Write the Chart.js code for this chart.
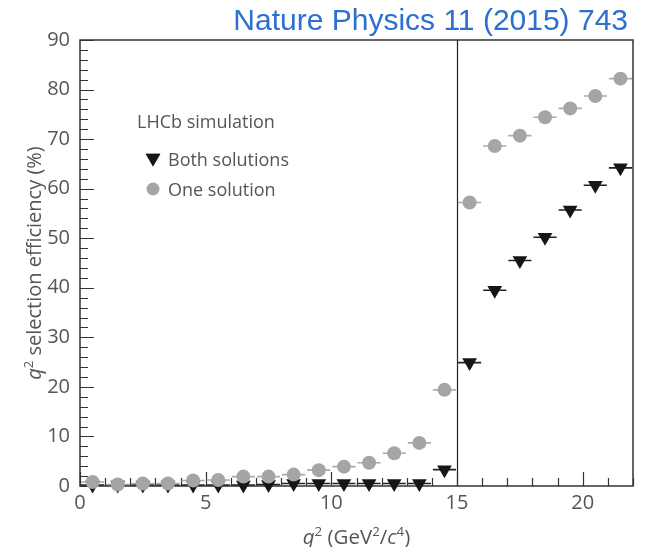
<!DOCTYPE html>
<html>
<head>
<meta charset="utf-8">
<script src="https://cdn.jsdelivr.net/npm/chart.js@4.4.1/dist/chart.umd.min.js"></script>
<style>
  html, body { margin: 0; padding: 0; background: #fff; }
  #wrap { position: relative; width: 646px; height: 547px; }
</style>
</head>
<body>
<div id="wrap"><canvas id="effChart" width="646" height="547"></canvas></div>
<script>
// q2 bin centres (GeV^2/c^4), bins are 1 wide
const binCenters = [0.5, 1.5, 2.5, 3.5, 4.5, 5.5, 6.5, 7.5, 8.5, 9.5, 10.5,
  11.5, 12.5, 13.5, 14.5, 15.5, 16.5, 17.5, 18.5, 19.5, 20.5, 21.5];
const binHalfWidth = 0.5;

// efficiency (%)
const oneSolution = [0.8, 0.3, 0.5, 0.5, 1.1, 1.2, 1.9, 1.9, 2.3, 3.2, 3.9,
  4.7, 6.6, 8.7, 19.4, 57.2, 68.6, 70.7, 74.4, 76.2, 78.7, 82.2];
const bothSolutions = [0.2, 0.2, 0.2, 0.2, 0.2, 0.2, 0.2, 0.3, 0.5, 0.5, 0.5,
  0.5, 0.5, 0.5, 3.3, 24.9, 39.5, 45.5, 50.2, 55.7, 60.7, 64.2];

const xTicks = [0, 5, 10, 15, 20];
const yTicks = [0, 10, 20, 30, 40, 50, 60, 70, 80, 90];
const dividerAt = 15;

const inkGray = "#555";
const FONT = "'Open Sans', 'DejaVu Sans', sans-serif";

function toPoints(ys) {
  return binCenters.map((x, i) => ({ x: x, y: ys[i] }));
}

// writes a label made of pieces (italic / superscript)
function richWidth(ctx, parts, size) {
  let w = 0;
  parts.forEach((p) => {
    ctx.font = (p.it ? "italic " : "") + (p.sup ? size * 0.65 : size) + "px " + FONT;
    w += ctx.measureText(p.t).width;
  });
  return w;
}
function drawRich(ctx, parts, size, x, y) {
  let cx = x;
  ctx.textBaseline = "alphabetic";
  ctx.textAlign = "left";
  parts.forEach((p) => {
    ctx.font = (p.it ? "italic " : "") + (p.sup ? size * 0.65 : size) + "px " + FONT;
    ctx.fillText(p.t, cx, p.sup ? y - size * 0.38 : y);
    cx += ctx.measureText(p.t).width;
  });
}

const xTitle = [{ t: "q", it: true }, { t: "2", sup: true }, { t: " (GeV" },
  { t: "2", sup: true }, { t: "/" }, { t: "c", it: true }, { t: "4", sup: true }, { t: ")" }];
const yTitle = [{ t: "q", it: true }, { t: "2", sup: true }, { t: " selection efficiency (%)" }];

const framePlugin = {
  id: "framePlugin",
  beforeDatasetsDraw(chart) {
    const ctx = chart.ctx;
    const a = chart.chartArea;
    const xs = chart.scales.x;
    const ys = chart.scales.y;
    ctx.save();

    // box
    ctx.strokeStyle = "#333";
    ctx.lineWidth = 1.5;
    ctx.strokeRect(a.left, a.top, a.right - a.left, a.bottom - a.top);

    // vertical line at 15
    ctx.lineWidth = 1.2;
    ctx.strokeStyle = "#222";
    const dx = Math.round(xs.getPixelForValue(dividerAt)) + 0.5;
    ctx.beginPath();
    ctx.moveTo(dx, a.top);
    ctx.lineTo(dx, a.bottom);
    ctx.stroke();

    // inward ticks
    ctx.lineWidth = 1.2;
    ctx.strokeStyle = "#333";
    ctx.beginPath();
    for (let v = 0; v <= 90; v += 2) {
      const py = Math.round(ys.getPixelForValue(v)) + 0.5;
      const len = v % 10 === 0 ? 14 : 8;
      ctx.moveTo(a.left, py);
      ctx.lineTo(a.left + len, py);
    }
    for (let v = 0; v <= 22; v += 1) {
      const px = Math.round(xs.getPixelForValue(v)) + 0.5;
      const len = v % 5 === 0 ? 14 : 8;
      ctx.moveTo(px, a.bottom);
      ctx.lineTo(px, a.bottom - len);
    }
    ctx.stroke();

    // horizontal bin-width bars
    const bars = [
      { ys: bothSolutions, color: "#222" },
      { ys: oneSolution, color: "#ababab" },
    ];
    ctx.lineWidth = 1.6;
    bars.forEach((b) => {
      ctx.strokeStyle = b.color;
      ctx.beginPath();
      binCenters.forEach((c, i) => {
        const py = ys.getPixelForValue(b.ys[i]);
        ctx.moveTo(xs.getPixelForValue(c - binHalfWidth) + 1, py);
        ctx.lineTo(xs.getPixelForValue(c + binHalfWidth) - 1, py);
      });
      ctx.stroke();
    });
    ctx.restore();
  },
  afterDraw(chart) {
    const ctx = chart.ctx;
    const a = chart.chartArea;
    ctx.save();

    // journal reference
    ctx.fillStyle = "#2a6fd1";
    ctx.font = "30px 'Liberation Sans', Arial, sans-serif";
    ctx.textAlign = "right";
    ctx.textBaseline = "alphabetic";
    ctx.fillText("Nature Physics 11 (2015) 743", 628, 30);

    // axis titles
    ctx.fillStyle = inkGray;
    const xw = richWidth(ctx, xTitle, 20.5);
    drawRich(ctx, xTitle, 20.5, (a.left + a.right) / 2 - xw / 2, 544);

    const yw = richWidth(ctx, yTitle, 20);
    ctx.save();
    ctx.translate(41, (a.top + a.bottom) / 2);
    ctx.rotate(-Math.PI / 2);
    drawRich(ctx, yTitle, 20, -yw / 2, 0);
    ctx.restore();

    // legend
    ctx.fillStyle = inkGray;
    ctx.font = "18px " + FONT;
    ctx.textAlign = "left";
    ctx.fillText("LHCb simulation", 137, 128);
    ctx.fillText("Both solutions", 168, 166);
    ctx.fillText("One solution", 168, 196);
    Chart.helpers.drawPoint(ctx, { pointStyle: "triangle", rotation: 180, radius: 8.5,
      borderWidth: 0 }, 153, 158);
    ctx.fillStyle = "#161616";
    ctx.fill();
    ctx.fillStyle = "#a5a5a5";
    ctx.beginPath();
    ctx.arc(153, 189, 6.5, 0, Math.PI * 2);
    ctx.fill();
    ctx.restore();
  },
};

new Chart(document.getElementById("effChart"), {
  type: "scatter",
  data: {
    datasets: [
      {
        label: "One solution",
        data: toPoints(oneSolution),
        pointStyle: "circle",
        pointRadius: 7,
        pointHoverRadius: 7,
        backgroundColor: "#a5a5a5",
        borderWidth: 0,
        clip: false,
      },
      {
        label: "Both solutions",
        data: toPoints(bothSolutions),
        pointStyle: "triangle",
        rotation: 180,
        pointRadius: 8.5,
        pointHoverRadius: 8.5,
        backgroundColor: "#161616",
        borderWidth: 0,
        clip: false,
      },
    ],
  },
  options: {
    responsive: false,
    animation: false,
    events: [],
    layout: { padding: { top: 40, right: 13, left: 0, bottom: 0 } },
    plugins: { legend: { display: false }, tooltip: { enabled: false } },
    scales: {
      x: {
        type: "linear",
        min: 0,
        max: 22,
        grid: { display: false, drawTicks: false },
        border: { display: false },
        afterBuildTicks: (s) => { s.ticks = xTicks.map((v) => ({ value: v })); },
        afterFit: (s) => { s.height = 61; },
        ticks: { color: inkGray, padding: 5, font: { family: FONT, size: 20 } },
      },
      y: {
        min: 0,
        max: 90,
        grid: { display: false, drawTicks: false },
        border: { display: false },
        afterBuildTicks: (s) => { s.ticks = yTicks.map((v) => ({ value: v })); },
        afterFit: (s) => { s.width = 80; },
        ticks: { color: inkGray, padding: 10, font: { family: FONT, size: 20 } },
      },
    },
  },
  plugins: [framePlugin],
});
</script>
</body>
</html>
